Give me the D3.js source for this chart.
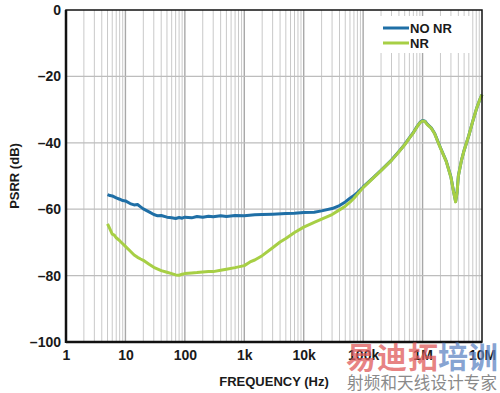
<!DOCTYPE html>
<html>
<head>
<meta charset="utf-8">
<script src="https://cdn.jsdelivr.net/npm/d3@7"></script>
<style>
  body { margin: 0; background: #fff; }
  svg { display: block; font-family: "Liberation Sans", Arial, sans-serif; }
</style>
</head>
<body>
<svg></svg>
<script>
let width = 500;
let height = 393;
let plotLeft = 66, plotRight = 482, plotTop = 10, plotBottom = 342;

// data (Hz, dB)
let noNrFreq = [5, 5.5, 6, 7, 8, 9, 10, 12, 14, 16, 18, 20, 25, 30, 35, 40, 50, 60, 70, 80, 90, 100,
  130, 160, 200, 250, 300, 400, 500, 700, 1000, 1500, 2000, 3000, 5000, 7000, 10000, 15000, 20000,
  30000, 40000, 50000, 60000, 70000, 80000, 100000, 150000, 200000, 300000, 400000, 500000, 600000,
  700000, 800000, 900000, 1000000, 1100000, 1200000, 1400000, 1600000, 1800000, 2000000, 2500000,
  3000000, 3300000, 3600000, 3800000, 4000000, 4500000, 5000000, 6000000, 7000000, 8000000, 9000000, 10000000];
let noNrDb = [-55.6, -55.9, -56.0, -56.6, -57.0, -57.4, -57.5, -58.3, -58.7, -58.6, -59.3, -59.9, -60.8, -61.6, -62.0, -61.9, -62.4, -62.6, -62.8, -62.5, -62.7, -62.4,
  -62.6, -62.2, -62.4, -62.1, -62.3, -62.0, -62.2, -61.9, -62.0, -61.7, -61.6, -61.5, -61.3, -61.2, -61.0, -60.9, -60.5,
  -59.8, -58.9, -57.8, -56.7, -55.9, -55.0, -53.3, -50.4, -48.3, -45.2, -42.6, -40.5, -38.5,
  -36.9, -35.2, -33.9, -33.3, -33.5, -34.4, -35.5, -37.2, -39.5, -41.5, -45.5,
  -50.3, -54.4, -57.7, -55.0, -50.0, -45.4, -42.3, -37.8, -33.5, -30.0, -27.4, -25.5];

let nrFreq = [5, 5.5, 6, 6.5, 7, 8, 9, 10, 12, 14, 16, 18, 20, 25, 30, 40, 50, 60, 70, 80, 90, 100,
  130, 160, 200, 250, 300, 400, 500, 700, 1000, 1250, 1500, 2000, 3000, 4000, 5000, 7000, 10000, 15000,
  20000, 30000, 40000, 50000, 60000, 70000, 80000, 100000, 150000, 200000, 300000, 400000, 500000,
  600000, 700000, 800000, 900000, 1000000, 1100000, 1200000, 1400000, 1600000, 1800000, 2000000,
  2500000, 3000000, 3300000, 3600000, 3800000, 4000000, 4500000, 5000000, 6000000, 7000000, 8000000, 9000000, 10000000];
let nrDb = [-64.4, -66.0, -67.5, -67.8, -68.6, -69.5, -70.4, -71.2, -72.6, -73.8, -74.5, -75.0, -75.4, -76.6, -77.5, -78.5, -79.0, -79.4, -79.8, -79.9, -79.6, -79.4,
  -79.2, -79.1, -78.9, -78.8, -78.8, -78.4, -78.1, -77.6, -77.0, -75.9, -75.3, -74.0, -71.6, -69.9, -68.8, -67.0, -65.4, -64.0,
  -63.0, -61.6, -60.2, -59.1, -57.9, -56.7, -55.5, -53.5, -50.5, -48.4, -45.3, -42.7, -40.6,
  -38.6, -37.0, -35.3, -34.0, -33.4, -33.6, -34.5, -35.6, -37.3, -39.6, -41.6,
  -45.6, -50.4, -54.5, -57.8, -55.0, -50.0, -45.4, -42.3, -37.8, -33.5, -30.0, -27.4, -25.5];

let xTicks = [1, 10, 100, 1000, 10000, 100000, 1000000, 10000000];
let xTickLabels = ["1", "10", "100", "1k", "10k", "100k", "1M", "10M"];
let yTicks = [0, -20, -40, -60, -80, -100];
let seriesNames = ["NO NR", "NR"];
let seriesColors = ["#1f6fa6", "#a7cf45"];

let svg = d3.select('svg').attr('width', width).attr('height', height);

let xScale = d3.scaleLog().domain([1, 1e7]).range([plotLeft, plotRight]);
let yScale = d3.scaleLinear().domain([0, -100]).range([plotTop, plotBottom]);

// minor vertical grid (2..9 in each decade)
let minor = [];
for (let d = 1; d < 1e7; d *= 10) {
  for (let k = 2; k <= 9; k++) minor.push(d * k);
}
svg.append('g')
  .selectAll('line').data(minor).join('line')
  .attr('x1', d => xScale(d)).attr('x2', d => xScale(d))
  .attr('y1', plotTop).attr('y2', plotBottom)
  .attr('stroke', '#c9c9c9').attr('stroke-width', 1);

// decade lines
svg.append('g')
  .selectAll('line').data(xTicks.slice(1, -1)).join('line')
  .attr('x1', d => xScale(d)).attr('x2', d => xScale(d))
  .attr('y1', plotTop).attr('y2', plotBottom)
  .attr('stroke', '#a8a8a8').attr('stroke-width', 1.4);

// horizontal grid
svg.append('g')
  .selectAll('line').data(yTicks.slice(1, -1)).join('line')
  .attr('x1', plotLeft).attr('x2', plotRight)
  .attr('y1', d => yScale(d)).attr('y2', d => yScale(d))
  .attr('stroke', '#bdbdbd').attr('stroke-width', 1.2);

// legend box (hides grid behind it)
svg.append('rect')
  .attr('x', 378).attr('y', 16).attr('width', 94).attr('height', 37)
  .attr('fill', '#fff');

// curves
let line = d3.line()
  .x(d => xScale(d[0]))
  .y(d => yScale(d[1]))
  .curve(d3.curveLinear);

let noNr = noNrFreq.map((f, i) => [f, noNrDb[i]]);
let nr = nrFreq.map((f, i) => [f, nrDb[i]]);

svg.append('path').datum(noNr)
  .attr('d', line).attr('fill', 'none')
  .attr('stroke', seriesColors[0]).attr('stroke-width', 3)
  .attr('stroke-linejoin', 'round');
svg.append('path').datum(nr)
  .attr('d', line).attr('fill', 'none')
  .attr('stroke', seriesColors[1]).attr('stroke-width', 3)
  .attr('stroke-linejoin', 'round');

// frame
svg.append('rect')
  .attr('x', plotLeft).attr('y', plotTop)
  .attr('width', plotRight - plotLeft).attr('height', plotBottom - plotTop)
  .attr('fill', 'none').attr('stroke', '#111').attr('stroke-width', 1.5);
svg.append('line')
  .attr('x1', plotLeft).attr('x2', plotLeft).attr('y1', plotTop).attr('y2', plotBottom + 1)
  .attr('stroke', '#111').attr('stroke-width', 2.5);
svg.append('line')
  .attr('x1', plotLeft).attr('x2', plotRight).attr('y1', plotBottom).attr('y2', plotBottom)
  .attr('stroke', '#111').attr('stroke-width', 2.5);

// axes
let xAxis = d3.axisBottom(xScale).tickValues(xTicks)
  .tickFormat((d, i) => xTickLabels[i]).tickSize(0).tickPadding(8);
let gx = svg.append('g')
  .attr('transform', 'translate(0,' + plotBottom + ')')
  .call(xAxis);
gx.select('.domain').remove();
gx.selectAll('text').attr('font-size', 14).attr('font-weight', 'bold')
  .attr('fill', '#1a1a1a').attr('font-family', '"Liberation Sans", Arial, sans-serif');

let yAxis = d3.axisLeft(yScale).tickValues(yTicks)
  .tickFormat(d => d < 0 ? '\u2013' + Math.abs(d) : String(d)).tickSize(0).tickPadding(5);
let gy = svg.append('g')
  .attr('transform', 'translate(' + plotLeft + ',0)')
  .call(yAxis);
gy.select('.domain').remove();
gy.selectAll('text').attr('font-size', 14).attr('font-weight', 'bold')
  .attr('fill', '#1a1a1a').attr('font-family', '"Liberation Sans", Arial, sans-serif');

// axis titles
svg.append('text')
  .attr('x', (plotLeft + plotRight) / 2).attr('y', 386)
  .attr('text-anchor', 'middle').attr('font-size', 13).attr('font-weight', 'bold')
  .attr('fill', '#1a1a1a').text('FREQUENCY (Hz)');
svg.append('text')
  .attr('transform', 'translate(19,' + ((plotTop + plotBottom) / 2) + ') rotate(-90)')
  .attr('text-anchor', 'middle').attr('font-size', 13).attr('font-weight', 'bold')
  .attr('fill', '#1a1a1a').text('PSRR (dB)');

// legend
seriesNames.forEach((name, i) => {
  let ly = 28 + i * 15;
  svg.append('line')
    .attr('x1', 383).attr('x2', 409).attr('y1', ly).attr('y2', ly)
    .attr('stroke', seriesColors[i]).attr('stroke-width', 3);
  svg.append('text')
    .attr('x', 410).attr('y', ly + 5)
    .attr('font-size', 13).attr('font-weight', 'bold').attr('fill', '#1a1a1a')
    .text(name);
});

// watermark
let wm = svg.append('g').attr('font-family', '"Noto Sans CJK SC", sans-serif');
wm.append('text')
  .attr('x', 346).attr('y', 368).attr('font-size', 30).attr('font-weight', 'bold')
  .attr('fill', '#e05a5a').attr('fill-opacity', 0.75).attr('textLength', 92)
  .text('易迪拓');
wm.append('text')
  .attr('x', 438).attr('y', 368).attr('font-size', 30).attr('font-weight', 'bold')
  .attr('fill', '#5f86c4').attr('fill-opacity', 0.75).attr('textLength', 60)
  .text('培训');
wm.append('text')
  .attr('x', 347).attr('y', 389).attr('font-size', 16.5)
  .attr('fill', '#8a8a8a').attr('textLength', 150)
  .text('射频和天线设计专家');
</script>
</body>
</html>
